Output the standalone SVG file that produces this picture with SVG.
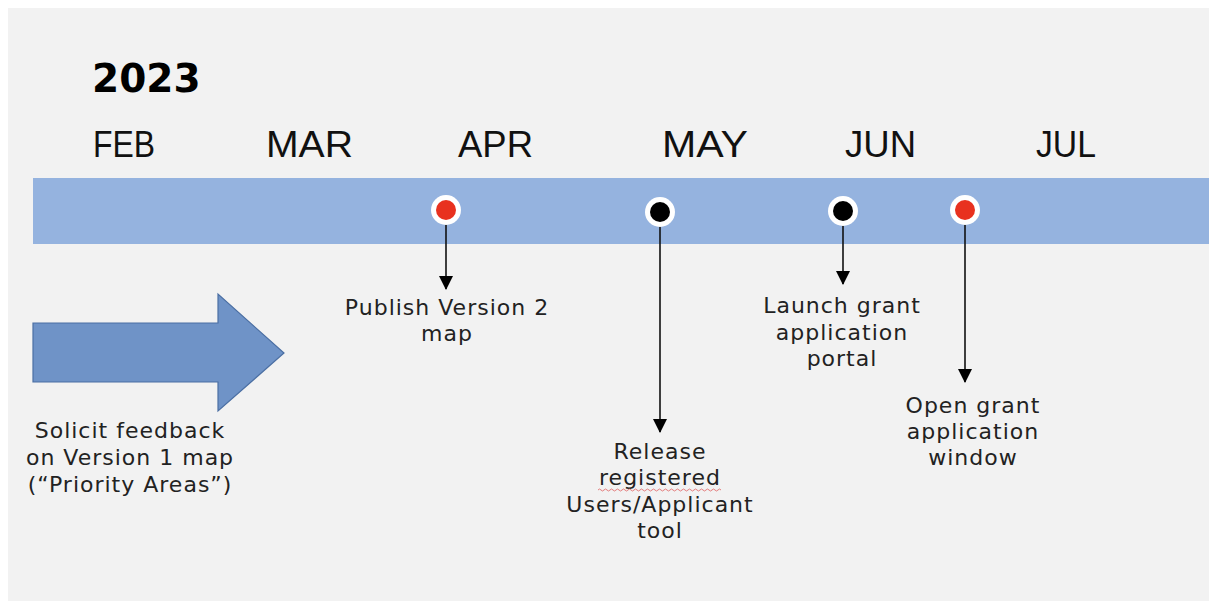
<svg xmlns="http://www.w3.org/2000/svg" width="1209" height="601" viewBox="0 0 1209 601">
  <defs>
    <style>
      .month { font-family: "Liberation Sans", Arial, sans-serif; font-size: 36px; fill: #111; }
      .year { font-family: "DejaVu Sans", sans-serif; font-weight: bold; font-size: 39px; fill: #000; }
      .lbl { font-family: "DejaVu Sans", sans-serif; font-size: 22px; letter-spacing: 1px; fill: #222; text-anchor: middle; }
      .conn { stroke: #111; stroke-width: 1.6; fill: none; }
      .ring { fill: #fff; }
    </style>
    <marker id="ah" viewBox="0 0 14 14" refX="13" refY="7" markerWidth="14" markerHeight="15" markerUnits="userSpaceOnUse" orient="auto">
      <path d="M0,0 L14,7 L0,14 Z" fill="#000"/>
    </marker>
  </defs>

  <rect x="0" y="0" width="1209" height="601" fill="#ffffff"/>
  <rect x="8" y="8" width="1201" height="593" fill="#f2f2f2"/>

  <g id="title">
    <text class="year" x="92" y="92">2023</text>
  </g>

  <g id="months">
    <text class="month" x="93" y="157" textLength="62" lengthAdjust="spacingAndGlyphs">FEB</text>
    <text class="month" x="266" y="157" textLength="87" lengthAdjust="spacingAndGlyphs">MAR</text>
    <text class="month" x="458" y="157" textLength="75" lengthAdjust="spacingAndGlyphs">APR</text>
    <text class="month" x="662" y="157" textLength="86" lengthAdjust="spacingAndGlyphs">MAY</text>
    <text class="month" x="845" y="157" textLength="71" lengthAdjust="spacingAndGlyphs">JUN</text>
    <text class="month" x="1036" y="157" textLength="60" lengthAdjust="spacingAndGlyphs">JUL</text>
  </g>

  <g id="band">
    <rect x="33" y="178" width="1176" height="66" fill="#95b3df"/>
  </g>

  <g id="connectors">
    <line class="conn" x1="446" y1="224" x2="446" y2="289" marker-end="url(#ah)"/>
    <line class="conn" x1="660" y1="226" x2="660" y2="432" marker-end="url(#ah)"/>
    <line class="conn" x1="843" y1="225" x2="843" y2="284" marker-end="url(#ah)"/>
    <line class="conn" x1="965" y1="224" x2="965" y2="382" marker-end="url(#ah)"/>
  </g>

  <g id="m-publish">
    <circle class="ring" cx="446" cy="210" r="15"/>
    <circle cx="446" cy="210" r="10" fill="#e8311f"/>
    <text class="lbl" x="447" y="315">Publish Version 2</text>
    <text class="lbl" x="447" y="341">map</text>
  </g>

  <g id="m-release">
    <circle class="ring" cx="660" cy="212" r="15"/>
    <circle cx="660" cy="212" r="10" fill="#000"/>
    <text class="lbl" x="660" y="459">Release</text>
    <text class="lbl" x="660" y="485">registered</text>
    <path d="M598,490 q1.5,-2 3,0 t3,0 t3,0 t3,0 t3,0 t3,0 t3,0 t3,0 t3,0 t3,0 t3,0 t3,0 t3,0 t3,0 t3,0 t3,0 t3,0 t3,0 t3,0 t3,0 t3,0 t3,0 t3,0 t3,0 t3,0 t3,0 t3,0 t3,0 t3,0 t3,0 t3,0 t3,0 t3,0 t3,0 t3,0 t3,0 t3,0 t3,0 t3,0 t3,0 t3,0" fill="none" stroke="#e06060" stroke-width="0.8"/>
    <text class="lbl" x="660" y="512">Users/Applicant</text>
    <text class="lbl" x="660" y="538">tool</text>
  </g>

  <g id="m-launch">
    <circle class="ring" cx="843" cy="211" r="15"/>
    <circle cx="843" cy="211" r="10" fill="#000"/>
    <text class="lbl" x="842" y="313">Launch grant</text>
    <text class="lbl" x="842" y="340">application</text>
    <text class="lbl" x="842" y="366">portal</text>
  </g>

  <g id="m-open">
    <circle class="ring" cx="965" cy="210" r="15"/>
    <circle cx="965" cy="210" r="10" fill="#e8311f"/>
    <text class="lbl" x="973" y="413">Open grant</text>
    <text class="lbl" x="973" y="439">application</text>
    <text class="lbl" x="973" y="465">window</text>
  </g>

  <g id="feedback">
    <path d="M33,323 L218,323 L218,294 L284,353 L218,411 L218,382 L33,382 Z" fill="#6f93c7" stroke="#4b6fa3" stroke-width="1.2"/>
    <text class="lbl" x="130" y="438">Solicit feedback</text>
    <text class="lbl" x="130" y="465">on Version 1 map</text>
    <text class="lbl" x="130" y="492">(“Priority Areas”)</text>
  </g>
</svg>
